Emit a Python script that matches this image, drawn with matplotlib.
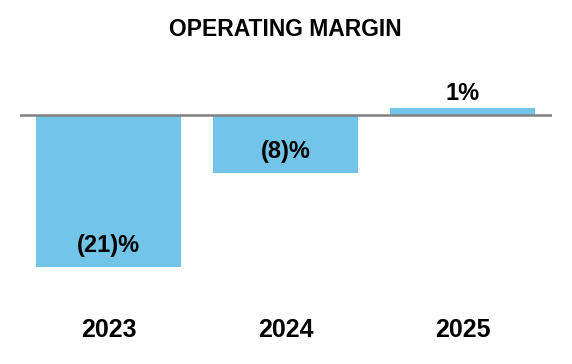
import matplotlib.pyplot as plt

# ---------------- data ----------------
years = ["2023", "2024", "2025"]
margin = [-21, -8, 1]
value_labels = ["(21)%", "(8)%", "1%"]

BAR_COLOR = "#72C5E8"
TEXT_COLOR = "#000000"

plt.rcParams['font.family'] = ['Liberation Sans', 'DejaVu Sans']

fig = plt.figure(figsize=(5.72, 3.64), dpi=100)
# axes placed in pixel space: x 20..552, y 60..300 (from top)
ax = fig.add_axes([20 / 572, (364 - 300) / 364, 532 / 572, 240 / 364])

x = list(range(len(years)))
ax.bar(x, margin, width=0.82, color=BAR_COLOR, zorder=2)
ax.axhline(0, color="#808080", linewidth=1.8, zorder=3)

ax.set_xlim(-0.5, 2.506)
ax.set_ylim(-25.55, 7.6)
ax.axis("off")

# value labels
for xi, v, lab in zip(x, margin, value_labels):
    if v < 0:
        ax.text(xi, v + 3.0, lab, ha="center", va="center", fontsize=17,
                fontweight="bold", color=TEXT_COLOR)
    else:
        ax.text(xi, v + 2.0, lab, ha="center", va="center", fontsize=17,
                fontweight="bold", color=TEXT_COLOR)

# year labels under the chart
for xi, yr in zip(x, years):
    ax.text(xi, -29.7, yr, ha="center", va="center", fontsize=18,
            fontweight="bold", color=TEXT_COLOR, clip_on=False)

fig.text(285 / 572, 1 - 30 / 364, "OPERATING MARGIN", ha="center", va="center",
         fontsize=16.5, fontweight="bold", color=TEXT_COLOR)

fig.savefig("out.png", dpi=100)
